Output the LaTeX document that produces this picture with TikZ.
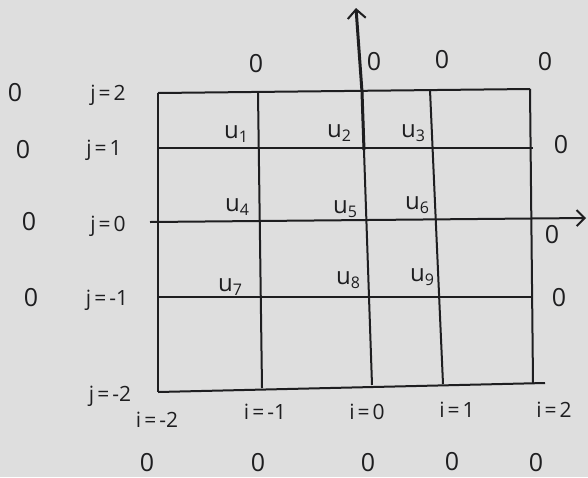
\documentclass[tikz,border=0pt]{standalone}
\usepackage{fontspec}
\setmainfont{Open Sans}
\usetikzlibrary{arrows.meta}
\definecolor{paper}{RGB}{222,222,222}
\definecolor{ink}{RGB}{30,30,32}
\newcommand{\usub}[1]{u\raisebox{-4pt}{\fontsize{16}{16}\selectfont #1}}
\newcommand{\eqlbl}[2]{#1\kern3pt=\kern3pt#2}
\begin{document}
\begin{tikzpicture}[x=1pt,y=-1pt,
  gridline/.style={draw=ink,line width=2pt},
  axisline/.style={draw=ink,line width=3pt},
  lbl/.style={text=ink,font=\fontsize{21}{23}\selectfont,inner sep=0pt},
  ulbl/.style={text=ink,font=\fontsize{24}{26}\selectfont,inner sep=0pt},
  zero/.style={text=ink,font=\fontsize{25}{27}\selectfont,inner sep=0pt}]
\fill[paper] (0,0) rectangle (588,477);
\useasboundingbox (0,0) rectangle (588,477);
% grid corners / ends
\coordinate (t0) at (158,93);  \coordinate (t1) at (258,93);
\coordinate (t2) at (362,92);  \coordinate (t3) at (430,90);
\coordinate (t4) at (530,89);
\coordinate (b0) at (158,392); \coordinate (b1) at (262,388);
\coordinate (b2) at (372,385); \coordinate (b3) at (443,384);
\coordinate (b4) at (533,383); \coordinate (be) at (545,383);
\coordinate (l1) at (158,148); \coordinate (r1) at (533,148);
\coordinate (l0) at (150,222); \coordinate (r0) at (586,218);
\coordinate (lm) at (158,297); \coordinate (rm) at (533,297);
\coordinate (ymid) at (364,150);
\coordinate (ytop) at (356,8);
% horizontal lines
\draw[gridline] (t0) -- (t4);
\draw[gridline] (l1) -- (r1);
\draw[gridline,-{Straight Barb[length=8pt,width=16pt,line width=2pt]}] (l0) -- (r0);
\draw[gridline] (lm) -- (rm);
\draw[gridline] (b0) -- (be);
% vertical lines
\draw[gridline] (t0) -- (b0);
\draw[gridline] (t1) -- (b1);
\draw[gridline] (t2) -- (b2);
\draw[gridline] (t3) -- (b3);
\draw[gridline] (t4) -- (b4);
\draw[axisline,-{Straight Barb[length=9pt,width=18pt,line width=2pt]}] (ymid) -- (t2) -- (ytop);
% u labels
\node[ulbl] (u1) at (236,134) {\usub{1}};
\node[ulbl] (u2) at (339,133) {\usub{2}};
\node[ulbl] (u3) at (413,133) {\usub{3}};
\node[ulbl] (u4) at (237,207) {\usub{4}};
\node[ulbl] (u5) at (345,209) {\usub{5}};
\node[ulbl] (u6) at (417,205) {\usub{6}};
\node[ulbl] (u7) at (230,287) {\usub{7}};
\node[ulbl] (u8) at (348,280) {\usub{8}};
\node[ulbl] (u9) at (422,277) {\usub{9}};
% j labels
\node[lbl] (j2) at (108,95) {\eqlbl{j}{2}};
\node[lbl] (j1) at (104,150) {\eqlbl{j}{1}};
\node[lbl] (j0) at (108,226) {\eqlbl{j}{0}};
\node[lbl] (jm1) at (107,300) {\eqlbl{j}{-1}};
\node[lbl] (jm2) at (110,396) {\eqlbl{j}{-2}};
% i labels
\node[lbl] (im2) at (157,420) {\eqlbl{i}{-2}};
\node[lbl] (im1) at (265,412) {\eqlbl{i}{-1}};
\node[lbl] (i0) at (367,412) {\eqlbl{i}{0}};
\node[lbl] (i1) at (457,410) {\eqlbl{i}{1}};
\node[lbl] (i2) at (554,410) {\eqlbl{i}{2}};
% zeros
\node[zero] (zl1) at (15,93) {0};
\node[zero] (zl2) at (23,150) {0};
\node[zero] (zl3) at (29,222) {0};
\node[zero] (zl4) at (31,298) {0};
\node[zero] (zt1) at (256,64) {0};
\node[zero] (zt2) at (374,62) {0};
\node[zero] (zt3) at (442,60) {0};
\node[zero] (zt4) at (545,62) {0};
\node[zero] (zr1) at (561,145) {0};
\node[zero] (zr2) at (552,235) {0};
\node[zero] (zr3) at (559,298) {0};
\node[zero] (zb1) at (147,463) {0};
\node[zero] (zb2) at (258,463) {0};
\node[zero] (zb3) at (368,463) {0};
\node[zero] (zb4) at (452,462) {0};
\node[zero] (zb5) at (536,463) {0};
\end{tikzpicture}
\end{document}
